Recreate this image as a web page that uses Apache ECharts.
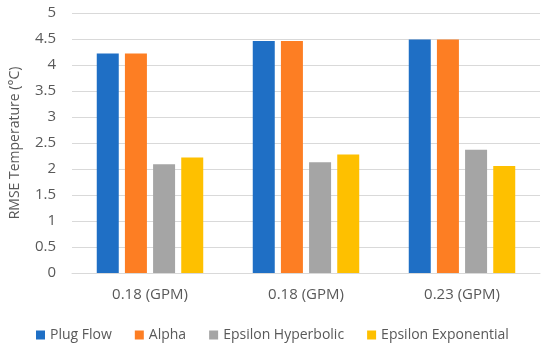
<!DOCTYPE html>
<html>
<head>
<meta charset="utf-8">
<script src="https://cdn.jsdelivr.net/npm/echarts@6/dist/echarts.min.js"></script>
<style>html,body{margin:0;padding:0;background:#fff;}#c{width:550px;height:348px;}</style>
</head>
<body>
<div id="c"></div>
<script>
const categories = ['0.18 (GPM)', '0.18 (GPM)', '0.23 (GPM)'];
const seriesNames = ['Plug Flow', 'Alpha', 'Epsilon Hyperbolic', 'Epsilon Exponential'];
const plugFlow = [4.22, 4.46, 4.49];
const alpha = [4.22, 4.46, 4.49];
const epsilonHyperbolic = [2.09, 2.13, 2.37];
const epsilonExponential = [2.22, 2.28, 2.06];
const yTicks = [0, 0.5, 1, 1.5, 2, 2.5, 3, 3.5, 4, 4.5, 5];
const colors = ['#1f6fc5', '#fd7e23', '#a5a5a5', '#fec000'];
const values = [plugFlow, alpha, epsilonHyperbolic, epsilonExponential];
const font = 'Open Sans';
const chart = echarts.init(document.getElementById('c'));
chart.setOption({
  animation: false,
  textStyle: {fontFamily: font},
  grid: {left: 64, right: 10, top: 13, bottom: 75, containLabel: false},
  legend: {
    data: seriesNames, top: 323, left: 31, itemWidth: 9, itemHeight: 9, itemGap: 23,
    icon: 'rect', textStyle: {fontSize: 14, color: '#595959', fontFamily: font, padding: [0, 0, 0, 0]}
  },
  xAxis: {
    type: 'category', data: categories.map((c, i) => i),
    axisLine: {lineStyle: {color: '#d9d9d9'}}, axisTick: {show: false},
    axisLabel: {formatter: v => categories[+v], fontSize: 15, color: '#595959', margin: 14}
  },
  yAxis: {
    type: 'value', min: yTicks[0], max: yTicks[yTicks.length - 1], interval: 0.5,
    name: 'RMSE Temperature (°C)', nameLocation: 'middle', nameGap: 50, nameRotate: 90,
    nameTextStyle: {fontSize: 14, color: '#595959'},
    axisLabel: {fontSize: 15, color: '#595959', margin: 16},
    splitLine: {lineStyle: {color: '#d9d9d9'}}
  },
  series: seriesNames.map((n, i) => ({
    name: n, type: 'bar', data: values[i], barWidth: 22, barGap: '28%',
    itemStyle: {color: colors[i]}
  }))
});
</script>
</body>
</html>
